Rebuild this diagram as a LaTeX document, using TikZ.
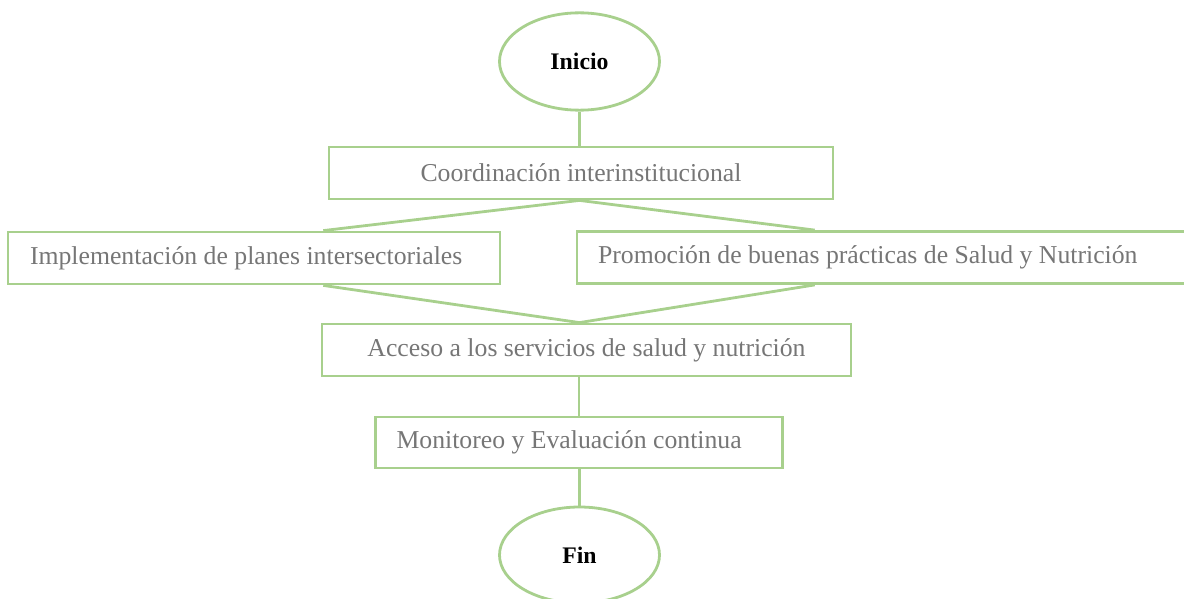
\documentclass[tikz,border=0pt]{standalone}
\usepackage{fontspec}
\setmainfont{Liberation Serif}
\usetikzlibrary{shapes.geometric, calc}
\definecolor{verde}{RGB}{168,208,141}
\definecolor{gris}{RGB}{118,118,118}
\newcommand{\textocaja}{\fontsize{19.3}{22}\selectfont}
\newcommand{\textofin}{\fontsize{17.8}{20}\selectfont\bfseries}
\begin{document}
\begin{tikzpicture}[x=0.75pt, y=-0.75pt, line width=2.1pt,
	caja/.style={draw=verde, line width=2.1pt, minimum height=39pt, inner xsep=15.75pt, text=gris, font=\textocaja},
	terminal/.style={draw=verde, ellipse, line width=2.1pt, inner sep=0pt, minimum width=120pt, minimum height=73pt, font=\textofin},
	enlace/.style={draw=verde, line width=2.1pt}]
	% 1. marco de la figura
	\useasboundingbox (0,0) rectangle (1184,599);
	
	% 2. inicio y fin
	\node[terminal] (inicio) at (579.5,61.5) {Inicio};
	\node[terminal, minimum height=72pt] (fin) at (579.5,555) {Fin};
	
	% 3. cajas del proceso
	\node[caja, minimum width=378pt] (coord) at (581,173) {Coordinación interinstitucional};
	\node[caja, text width=336pt, inner xsep=16.5pt, align=flush left] (impl) at (254,258) {Implementación de planes intersectoriales};
	\node[caja, text width=429.75pt, align=flush left] (promo) at (884.5,257.5) {Promoción de buenas prácticas de Salud y Nutrición};
	\node[caja, minimum width=396.75pt] (acceso) at (586.5,350) {Acceso a los servicios de salud y nutrición};
	\node[caja, text width=273.75pt, align=flush left, minimum height=38.25pt] (monit) at (579,442.5) {Monitoreo y Evaluación continua};
	
	% 4. puntos de enlace en las cajas laterales
	\coordinate (impl-arriba) at ($(impl.north west)!0.64!(impl.north east)$);
	\coordinate (impl-abajo) at ($(impl.south west)!0.64!(impl.south east)$);
	\coordinate (promo-arriba) at ($(promo.north west)!0.387!(promo.north east)$);
	\coordinate (promo-abajo) at ($(promo.south west)!0.387!(promo.south east)$);
	\coordinate (acceso-arriba) at (acceso.north -| inicio.south);
	
	% 5. conectores
	\draw[enlace] (inicio.south) -- (inicio.south |- coord.north);
	\draw[enlace] (impl-arriba) -- (coord.south -| inicio.south) -- (promo-arriba);
	\draw[enlace] (impl-abajo) -- (acceso-arriba) -- (promo-abajo);
	\draw[enlace] (acceso.south -| monit.north) -- (monit.north);
	\draw[enlace] (monit.south -| fin.north) -- (fin.north);
\end{tikzpicture}
\end{document}
